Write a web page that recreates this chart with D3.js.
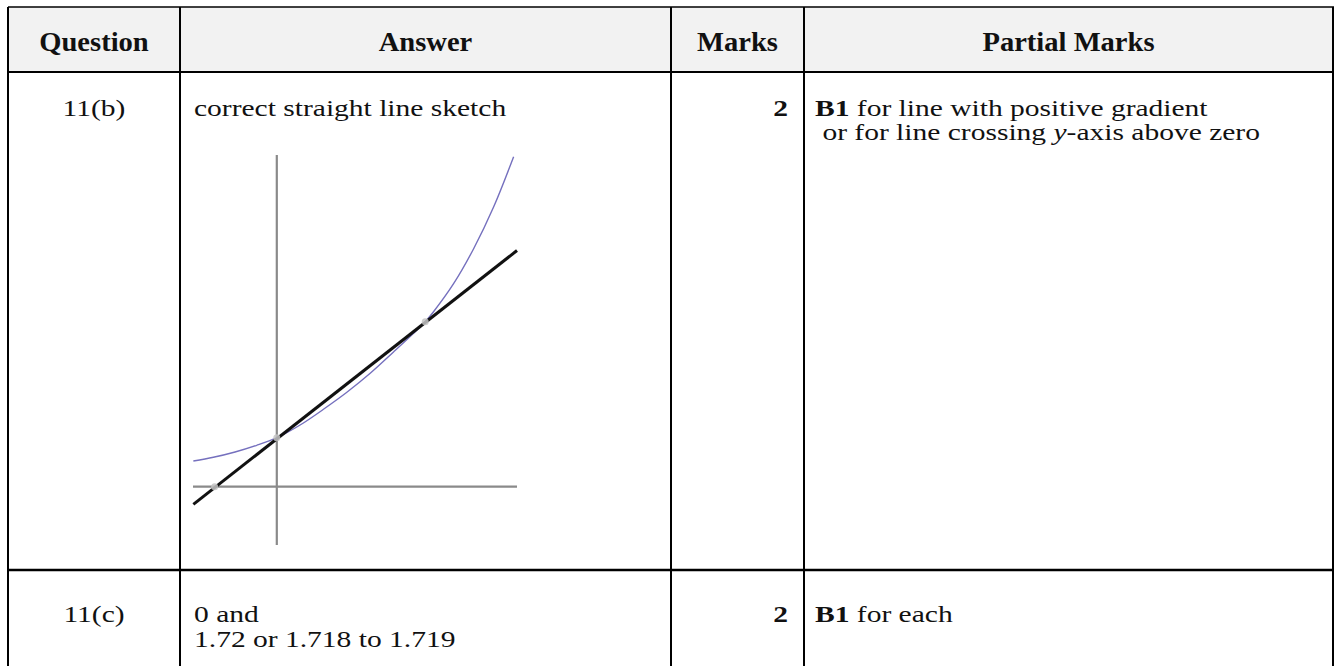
<!DOCTYPE html>
<html>
<head>
<meta charset="utf-8">
<script src="https://cdn.jsdelivr.net/npm/d3@7"></script>
<style>
  body { margin: 0; background: #fff; }
  svg text { font-family: "Liberation Serif", "Times New Roman", serif; white-space: pre; fill: #111; }
</style>
</head>
<body>
<div id="viz"></div>
<script>
// table text
const headers = ["Question", "Answer", "Marks", "Partial Marks"];
const questions = ["11(b)", "11(c)"];
const answers = [["correct straight line sketch"], ["0 and", "1.72 or 1.718 to 1.719"]];
const marks = ["2", "2"];
const partialMarks = [
    [
        [{ t: "B1", b: true }, { t: " for line with positive gradient" }],
        [{ t: " or for line crossing " }, { t: "y", i: true }, { t: "-axis above zero" }]
    ],
    [
        [{ t: "B1", b: true }, { t: " for each" }]
    ]
];

// sketch: exponential curve, straight line, axes
const curveX = [-0.966, -0.734, -0.483, -0.232, 0, 0.270, 0.540, 0.811, 1.081, 1.351, 1.583, 1.718, 1.814, 2.046, 2.278, 2.509, 2.741];
const curveY = [0.524, 0.600, 0.708, 0.845, 1.0, 1.259, 1.580, 1.927, 2.314, 2.749, 3.131, 3.367, 3.571, 4.143, 4.857, 5.708, 6.735];
const lineX = [-0.966, 2.78];
const lineY = [-0.36, 4.82];
const markX = [-0.72, 0, 1.718];
const markY = [0, 1.0, 3.367];
const xDomain = [-0.97, 2.78];
const yDomain = [-1.19, 6.77];

const fullWidth = 1335;
const fullHeight = 666;
const headSize = 28;
const headSx = 1.02;
const bodySize = 24;
const bodySx = 1.23; // body text of the page is stretched sideways
const colEdges = [8, 180, 671, 804, 1333];
const tableTop = 7;
const headBottom = 72;
const rowBottom = 570;
const lineGap = 24.5;

const svg = d3.select("#viz").append("svg")
    .attr("width", fullWidth)
    .attr("height", fullHeight);

svg.append("rect")
    .attr("x", colEdges[0])
    .attr("y", tableTop)
    .attr("width", colEdges[4] - colEdges[0])
    .attr("height", headBottom - tableTop)
    .attr("fill", "#f2f2f2");

const addText = function(x, y, parts, anchor, size, sx) {
    const t = svg.append("text")
        .attr("transform", `translate(${x},${y}) scale(${sx || bodySx},1)`)
        .attr("text-anchor", anchor || "start")
        .style("font-size", (size || bodySize) + "px");
    parts.forEach(p => {
        t.append("tspan")
            .style("font-weight", p.b ? "bold" : "normal")
            .style("font-style", p.i ? "italic" : "normal")
            .text(p.t);
    });
    return t;
}

// header
headers.forEach((h, i) => {
    addText((colEdges[i] + colEdges[i + 1]) / 2, 51, [{ t: h, b: true }], "middle", headSize, headSx);
});

// rows
const rowBase = [115.5, 622];
questions.forEach((q, r) => {
    addText((colEdges[0] + colEdges[1]) / 2, rowBase[r], [{ t: q }], "middle");
    answers[r].forEach((a, k) => {
        addText(colEdges[1] + 14, rowBase[r] + k * lineGap, [{ t: a }]);
    });
    addText(colEdges[3] - 16, rowBase[r], [{ t: marks[r], b: true }], "end");
    partialMarks[r].forEach((line, k) => {
        addText(colEdges[3] + 11, rowBase[r] + k * lineGap, line);
    });
});

// grid lines
const grid = svg.append("g").attr("stroke", "#000");
grid.append("line").attr("x1", colEdges[0]).attr("x2", colEdges[4] + 1)
    .attr("y1", tableTop).attr("y2", tableTop).attr("stroke-width", 1.5);
grid.append("line").attr("x1", colEdges[0]).attr("x2", colEdges[4] + 1)
    .attr("y1", headBottom).attr("y2", headBottom).attr("stroke-width", 2);
grid.append("line").attr("x1", colEdges[0]).attr("x2", colEdges[4] + 1)
    .attr("y1", rowBottom).attr("y2", rowBottom).attr("stroke-width", 2.5);
colEdges.forEach(x => {
    grid.append("line").attr("x1", x).attr("x2", x)
        .attr("y1", tableTop).attr("y2", fullHeight).attr("stroke-width", 2);
});

// sketch
const xScale = d3.scaleLinear().domain(xDomain).range([193, 517]);
const yScale = d3.scaleLinear().domain(yDomain).range([545, 155]);
const sketch = svg.append("g");

sketch.append("line")
    .attr("x1", xScale(xDomain[0])).attr("x2", xScale(xDomain[1]))
    .attr("y1", yScale(0)).attr("y2", yScale(0))
    .attr("stroke", "#8a8a8a").attr("stroke-width", 2.2);
sketch.append("line")
    .attr("x1", xScale(0)).attr("x2", xScale(0))
    .attr("y1", yScale(yDomain[0])).attr("y2", yScale(yDomain[1]))
    .attr("stroke", "#8a8a8a").attr("stroke-width", 2.2);

const curveData = curveX.map((x, i) => ({ x: x, y: curveY[i] }));
const lineData = lineX.map((x, i) => ({ x: x, y: lineY[i] }));

const path = d3.line()
    .x(d => xScale(d.x))
    .y(d => yScale(d.y));

sketch.append("path")
    .datum(curveData)
    .attr("fill", "none")
    .attr("stroke", "#7570be")
    .attr("stroke-width", 1.4)
    .attr("d", path.curve(d3.curveCatmullRom));

sketch.append("path")
    .datum(lineData)
    .attr("fill", "none")
    .attr("stroke", "#111")
    .attr("stroke-width", 3)
    .attr("d", d3.line().x(d => xScale(d.x)).y(d => yScale(d.y)));

sketch.selectAll("circle")
    .data(markX.map((x, i) => ({ x: x, y: markY[i] })))
    .enter().append("circle")
        .attr("cx", d => xScale(d.x))
        .attr("cy", d => yScale(d.y))
        .attr("r", 3.5)
        .attr("fill", "#c4c4c4")
        .attr("opacity", 0.85);
</script>
</body>
</html>
